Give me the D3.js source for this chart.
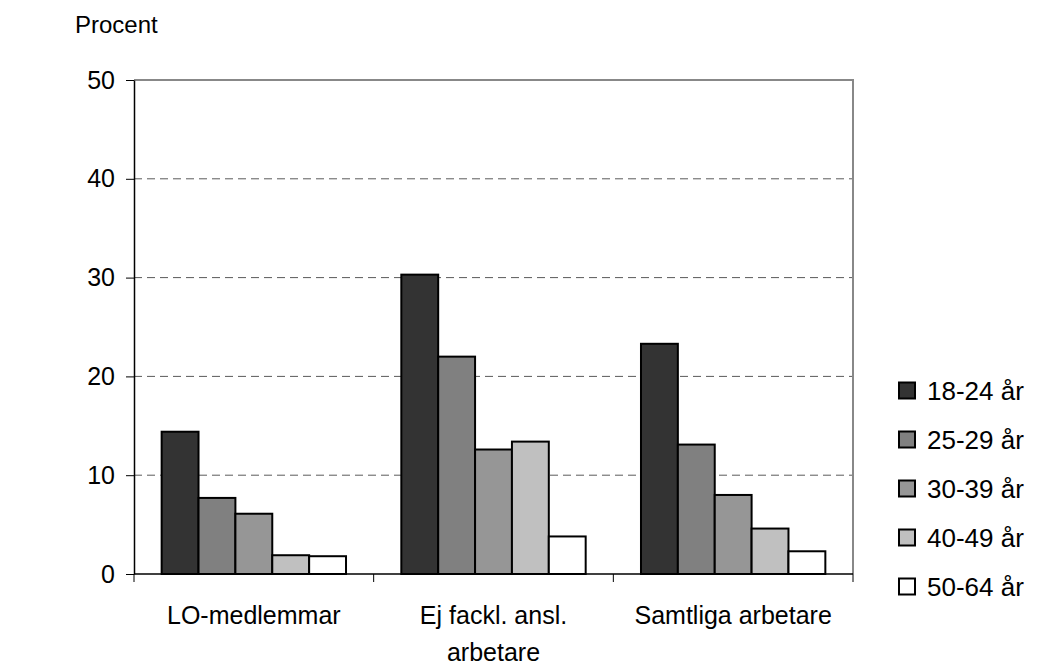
<!DOCTYPE html>
<html><head><meta charset="utf-8">
<script src="https://cdn.jsdelivr.net/npm/d3@7"></script>
<style>body{margin:0;background:#fff;}svg{display:block;font-family:"Liberation Sans",Arial,sans-serif;}</style>
</head><body>
<svg id="c" width="1037" height="667"></svg>
<script>
const categories = [["LO-medlemmar"], ["Ej fackl. ansl.", "arbetare"], ["Samtliga arbetare"]];
const seriesNames = ["18-24 år", "25-29 år", "30-39 år", "40-49 år", "50-64 år"];
const series1824 = [14.4, 30.3, 23.3];
const series2529 = [7.7, 22.0, 13.1];
const series3039 = [6.1, 12.6, 8.0];
const series4049 = [1.9, 13.4, 4.6];
const series5064 = [1.8, 3.8, 2.3];
const yTicks = [0, 10, 20, 30, 40, 50];
const colors = ["#333333", "#808080", "#969696", "#c0c0c0", "#ffffff"];

const allSeries = [series1824, series2529, series3039, series4049, series5064];
const catKeys = categories.map(c => c.join(" "));
const data = catKeys.map((k, i) => ({ key: k, lines: categories[i], values: seriesNames.map((s, j) => ({ s, v: allSeries[j][i] })) }));

const svg = d3.select("#c");
const L = 134, R = 853, T = 80, B = 574;
const x0 = d3.scaleBand().domain(catKeys).range([L, R]).paddingInner(0).paddingOuter(0);
const x1 = d3.scaleBand().domain(seriesNames).range([0, x0.bandwidth()]).paddingInner(0).paddingOuter(0.75);
const y = d3.scaleLinear().domain([0, 50]).range([B, T]);
const color = d3.scaleOrdinal().domain(seriesNames).range(colors);

// gridlines
svg.append("g").selectAll("line").data(yTicks.filter(t => t > 0 && t < 50)).join("line")
  .attr("x1", L).attr("x2", R).attr("y1", d => y(d)).attr("y2", d => y(d))
  .attr("stroke", "#5a5a5a").attr("stroke-width", 1).attr("stroke-dasharray", "8,5");

// plot border top/right
svg.append("path").attr("d", `M${L},${T}H${R}V${B}`).attr("fill", "none").attr("stroke", "#888").attr("stroke-width", 2);

// bars
svg.append("g").selectAll("g").data(data).join("g")
  .attr("transform", d => `translate(${x0(d.key)},0)`)
  .selectAll("rect").data(d => d.values).join("rect")
  .attr("x", d => x1(d.s)).attr("width", x1.bandwidth())
  .attr("y", d => y(d.v)).attr("height", d => y(0) - y(d.v))
  .attr("fill", d => color(d.s)).attr("stroke", "#000").attr("stroke-width", 2);

// y axis
const yAxis = d3.axisLeft(y).tickValues(yTicks).tickSize(8).tickPadding(11).tickSizeOuter(0);
const ga = svg.append("g").attr("transform", `translate(${L},0)`).call(yAxis);
ga.select(".domain").attr("stroke", "#000").attr("stroke-width", 1.5);
ga.selectAll(".tick line").attr("stroke", "#000");
ga.selectAll("text").attr("font-size", 25).attr("fill", "#000").attr("font-family", "Liberation Sans, Arial, sans-serif");

// x axis
const xb = svg.append("g");
xb.append("line").attr("x1", L).attr("x2", R).attr("y1", B).attr("y2", B).attr("stroke", "#000").attr("stroke-width", 1.5);
const bounds = catKeys.map(k => x0(k)).concat([x0(catKeys[catKeys.length - 1]) + x0.bandwidth()]);
xb.selectAll("line.t").data(bounds).join("line").attr("class", "t")
  .attr("x1", d => d).attr("x2", d => d).attr("y1", B).attr("y2", B + 8).attr("stroke", "#000");
const lbl = xb.selectAll("text").data(data).join("text")
  .attr("x", d => x0(d.key) + x0.bandwidth() / 2).attr("y", 624)
  .attr("text-anchor", "middle").attr("font-size", 25).attr("fill", "#000");
lbl.selectAll("tspan").data(d => d.lines).join("tspan")
  .attr("x", function () { return this.parentNode.getAttribute("x"); })
  .attr("dy", (d, i) => i === 0 ? 0 : 37).text(d => d);

// title
svg.append("text").attr("x", 75).attr("y", 33).attr("font-size", 24).attr("fill", "#000").text("Procent");

// legend
const lg = svg.append("g").selectAll("g").data(seriesNames).join("g")
  .attr("transform", (d, i) => `translate(899,${390.5 + i * 49})`);
lg.append("rect").attr("x", 0).attr("y", -8).attr("width", 16).attr("height", 16)
  .attr("fill", d => color(d)).attr("stroke", "#000").attr("stroke-width", 2);
lg.append("text").attr("x", 28).attr("y", 9).attr("font-size", 26).attr("fill", "#000").text(d => d);
</script>
</body></html>
